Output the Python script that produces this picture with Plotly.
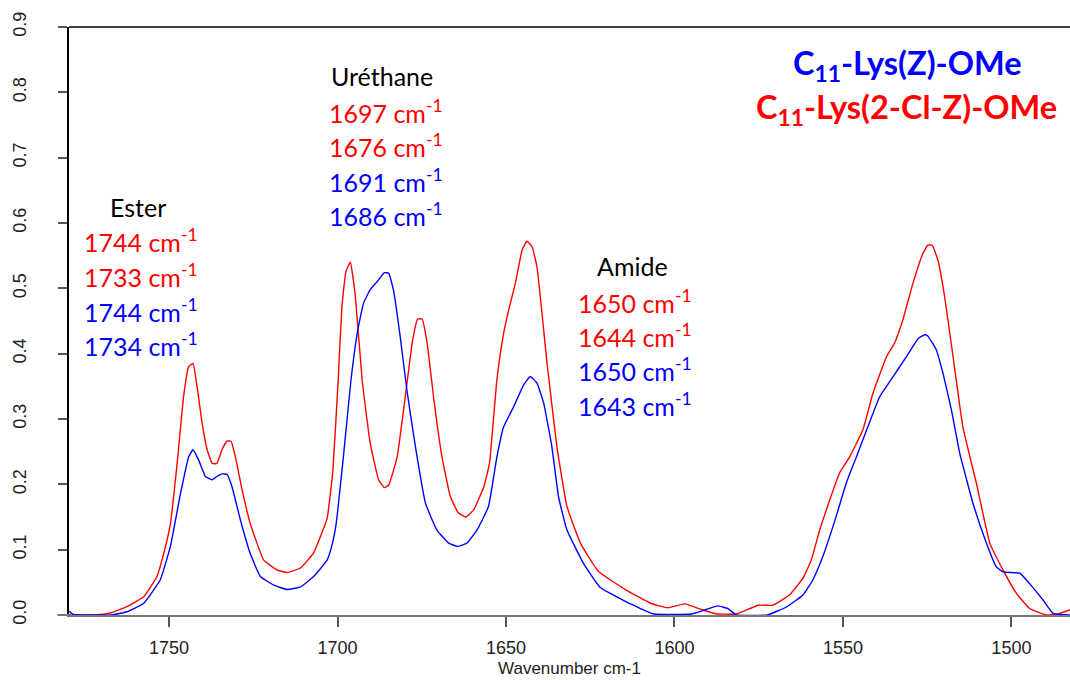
import plotly.graph_objects as go

# ---------------- data ----------------
red_wn = [1779.7, 1772.0, 1767.4, 1762.5, 1757.5, 1753.6, 1751.6, 1749.6, 1747.6, 1745.7,
          1744.2, 1742.9, 1741.7, 1740.2, 1738.7, 1737.2, 1735.8, 1734.3, 1732.8, 1731.6,
          1730.3, 1728.3, 1725.9, 1721.9, 1718.0, 1715.0, 1711.0, 1707.1, 1703.1, 1701.4,
          1699.8, 1698.7, 1697.5, 1696.2, 1694.7, 1692.7, 1690.3, 1687.8, 1686.1, 1684.8,
          1682.3, 1679.9, 1677.7, 1676.2, 1674.9, 1673.4, 1671.5, 1669.0, 1666.5, 1664.1,
          1661.9, 1659.6, 1656.6, 1654.9, 1652.7, 1650.7, 1649.2, 1647.2, 1645.2, 1643.8,
          1642.3, 1640.8, 1637.8, 1634.9, 1631.9, 1627.9, 1622.6, 1614.3, 1607.1, 1602.0,
          1596.9, 1591.8, 1587.8, 1581.6, 1575.2, 1570.8, 1565.8, 1561.9, 1559.4, 1556.9,
          1554.0, 1551.0, 1548.0, 1544.1, 1541.1, 1537.1, 1534.7, 1532.2, 1529.2, 1526.2,
          1524.8, 1523.5, 1521.8, 1519.8, 1517.3, 1514.4, 1510.4, 1506.4, 1502.5, 1498.5,
          1494.6, 1489.6, 1485.6, 1482.6]
red_abs = [0.0, 0.0, 0.003, 0.013, 0.028, 0.059, 0.094, 0.140, 0.232, 0.334,
           0.380, 0.385, 0.350, 0.294, 0.253, 0.232, 0.232, 0.253, 0.266, 0.266,
           0.242, 0.191, 0.140, 0.084, 0.069, 0.065, 0.072, 0.095, 0.148, 0.220,
           0.360, 0.472, 0.526, 0.540, 0.487, 0.360, 0.263, 0.207, 0.195, 0.199,
           0.242, 0.334, 0.421, 0.453, 0.453, 0.416, 0.334, 0.242, 0.181, 0.156,
           0.150, 0.161, 0.196, 0.232, 0.360, 0.431, 0.467, 0.508, 0.559, 0.572,
           0.564, 0.533, 0.385, 0.258, 0.166, 0.110, 0.067, 0.038, 0.018, 0.011,
           0.017, 0.008, 0.002, 0.0015, 0.015, 0.015, 0.031, 0.056, 0.084, 0.130,
           0.175, 0.217, 0.242, 0.283, 0.339, 0.395, 0.416, 0.452, 0.508, 0.554,
           0.566, 0.566, 0.543, 0.487, 0.395, 0.288, 0.202, 0.110, 0.069, 0.033,
           0.010, 0.0, 0.0025, 0.008]

blue_wn = [1779.7, 1778.5, 1772.0, 1767.0, 1762.5, 1757.5, 1752.6, 1749.6, 1746.6, 1744.2,
           1742.9, 1741.2, 1739.2, 1737.2, 1735.8, 1734.3, 1732.8, 1731.3, 1728.8, 1725.9,
           1722.9, 1719.0, 1715.0, 1711.0, 1707.1, 1703.1, 1701.5, 1700.4, 1698.2, 1696.0,
           1694.0, 1692.3, 1690.3, 1687.8, 1686.1, 1684.8, 1683.3, 1681.4, 1679.4, 1676.9,
           1673.9, 1670.5, 1667.0, 1664.4, 1661.6, 1658.6, 1655.2, 1652.7, 1650.7, 1647.7,
           1644.8, 1642.8, 1640.8, 1638.8, 1636.4, 1634.4, 1631.9, 1627.0, 1622.2, 1614.3,
           1606.1, 1594.9, 1590.8, 1587.2, 1584.2, 1581.6, 1572.4, 1566.5, 1561.8, 1558.9,
           1556.0, 1552.0, 1549.0, 1546.0, 1542.6, 1539.1, 1535.1, 1531.2, 1527.7, 1525.7,
           1524.8, 1522.3, 1520.3, 1517.8, 1515.3, 1511.4, 1507.4, 1504.5, 1502.5, 1497.5,
           1494.6, 1490.6, 1487.6, 1482.6]
blue_abs = [0.006, 0.001, 0.0, 0.0, 0.005, 0.018, 0.054, 0.105, 0.186, 0.242,
            0.253, 0.237, 0.212, 0.207, 0.212, 0.216, 0.215, 0.196, 0.145, 0.094,
            0.059, 0.046, 0.039, 0.043, 0.059, 0.084, 0.110, 0.140, 0.245, 0.360,
            0.436, 0.477, 0.498, 0.513, 0.524, 0.523, 0.495, 0.426, 0.344, 0.258,
            0.171, 0.130, 0.110, 0.105, 0.110, 0.130, 0.166, 0.242, 0.288, 0.319,
            0.352, 0.365, 0.355, 0.324, 0.258, 0.181, 0.130, 0.079, 0.043, 0.020,
            0.0015, 0.0015, 0.008, 0.014, 0.010, 0.0, 0.0, 0.013, 0.031, 0.054,
            0.089, 0.151, 0.202, 0.242, 0.288, 0.334, 0.365, 0.395, 0.423, 0.429,
            0.427, 0.406, 0.370, 0.314, 0.247, 0.171, 0.110, 0.074, 0.066, 0.064,
            0.048, 0.023, 0.0025, 0.0]

x_tick_vals = [1750, 1700, 1650, 1600, 1550, 1500]
y_tick_vals = [0.0, 0.1, 0.2, 0.3, 0.4, 0.5, 0.6, 0.7, 0.8, 0.9]
y_tick_text = ["0.0", "0.1", "0.2", "0.3", "0.4", "0.5", "0.6", "0.7", "0.8", "0.9"]

group_titles = ["Ester", "Uréthane", "Amide"]
ester_red = ["1744", "1733"]
ester_blue = ["1744", "1734"]
urethane_red = ["1697", "1676"]
urethane_blue = ["1691", "1686"]
amide_red = ["1650", "1644"]
amide_blue = ["1650", "1643"]
legend_blue = "C<sub>11</sub>-Lys(Z)-OMe"
legend_red = "C<sub>11</sub>-Lys(2-Cl-Z)-OMe"

RED = "#FF0000"
BLUE = "#0000FF"

# ---------------- figure ----------------
W, H = 1070, 680
L, R, T, B = 68.5, 0, 27, 65
pw = W - L - R
ph = H - T - B


def px(x):
    return (x - L) / pw


def py(y):
    return (H - B - y) / ph


fig = go.Figure()
fig.add_trace(go.Scatter(x=red_wn, y=red_abs, mode="lines",
                         line=dict(color=RED, width=1.4, shape="spline", smoothing=0.35),
                         showlegend=False))
fig.add_trace(go.Scatter(x=blue_wn, y=blue_abs, mode="lines",
                         line=dict(color=BLUE, width=1.4, shape="spline", smoothing=0.35),
                         showlegend=False))

fig.update_layout(
    width=W, height=H,
    margin=dict(l=L, r=R, t=T, b=B, pad=0, autoexpand=False),
    paper_bgcolor="white", plot_bgcolor="white",
    font=dict(family="Liberation Sans, Arial, sans-serif", color="#222222"),
    xaxis=dict(
        range=[1779.7, 1482.6], tickvals=x_tick_vals,
        ticks="outside", ticklen=10, tickwidth=1.5, tickcolor="#555555",
        showline=True, linecolor="#777777", linewidth=2,
        showgrid=False, zeroline=False, automargin=False,
        tickfont=dict(size=18, color="#222222"),
        ticklabelstandoff=5,
        title=dict(text="Wavenumber cm-1", font=dict(size=17, color="#222222"), standoff=6),
    ),
    yaxis=dict(
        range=[0, 0.9], tickvals=y_tick_vals, ticktext=y_tick_text,
        ticks="outside", ticklen=9, tickwidth=1.5, tickcolor="#555555",
        showline=True, linecolor="black", linewidth=1.5,
        showgrid=False, zeroline=False, tickangle=-90, automargin=False,
        tickfont=dict(size=18, color="#222222"),
        ticklabelstandoff=25,
    ),
)

# top border and left extension of bottom axis
fig.add_shape(type="line", xref="paper", yref="paper", x0=0, x1=1, y0=1, y1=1,
              line=dict(color="black", width=1.5))
fig.add_shape(type="line", xref="paper", yref="paper", x0=px(57), x1=0, y0=0, y1=0,
              line=dict(color="#777777", width=2))

LAB_FONT = "Lato, Open Sans, sans-serif"
LSIZE = 25
SPACING = 34.5


def add_group(title, cx, ty, left_x, first_y, reds, blues):
    fig.add_annotation(xref="paper", yref="paper", x=px(cx), y=py(ty),
                       text=title, showarrow=False, xanchor="center", yanchor="middle",
                       font=dict(family=LAB_FONT, size=LSIZE, color="black"))
    lines = [(v, RED) for v in reds] + [(v, BLUE) for v in blues]
    for i, (v, c) in enumerate(lines):
        fig.add_annotation(xref="paper", yref="paper", x=px(left_x), y=py(first_y + i * SPACING),
                           text=f"{v} cm<sup>-1</sup>", showarrow=False,
                           xanchor="left", yanchor="middle",
                           font=dict(family=LAB_FONT, size=LSIZE, color=c))


add_group(group_titles[0], 138, 207, 82, 241, ester_red, ester_blue)
add_group(group_titles[1], 382, 76, 327, 111, urethane_red, urethane_blue)
add_group(group_titles[2], 632, 266, 576, 301, amide_red, amide_blue)

fig.add_annotation(xref="paper", yref="paper", x=px(907), y=py(65),
                   text=legend_blue, showarrow=False, xanchor="center", yanchor="middle",
                   font=dict(family=LAB_FONT, size=32.5, color=BLUE, weight="bold"))
fig.add_annotation(xref="paper", yref="paper", x=px(906), y=py(109),
                   text=legend_red, showarrow=False, xanchor="center", yanchor="middle",
                   font=dict(family=LAB_FONT, size=32.5, color=RED, weight="bold"))

fig.write_html(
    "out.html",
    config={"displayModeBar": False},
    post_script="document.body.style.margin='0';document.body.style.overflow='hidden';",
)
